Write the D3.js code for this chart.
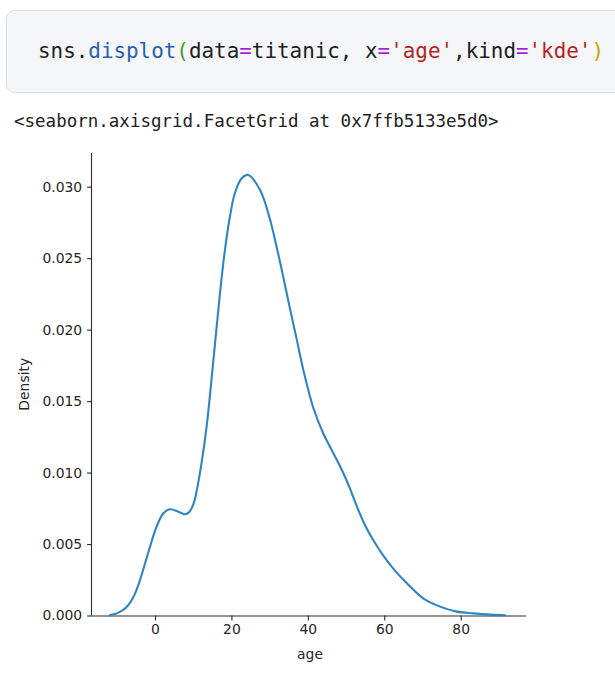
<!DOCTYPE html>
<html>
<head>
<meta charset="utf-8">
<script src="https://cdn.jsdelivr.net/npm/d3@7"></script>
<style>
  html, body { margin: 0; padding: 0; background: #ffffff; }
  svg { display: block; }
</style>
</head>
<body>
<svg id="chart" width="615" height="677"></svg>
<script>
// ---- data ----
const ages = [-11.8, -10.5, -9.2, -7.8, -6.5, -5.2, -3.9, -1.3, 0.4, 2.2, 3.9, 6.1, 7.9, 8.8, 9.6, 10.3, 10.9, 12.2, 13.5, 15.3, 17.0, 18.3, 19.6, 20.9, 22.7, 24.4,
              27.5, 30.1, 31.9, 33.4, 35.3, 37.1, 38.8, 41.4, 44.1, 46.0, 47.6, 49.3, 51.0, 52.8, 55.0, 57.1, 59.7, 62.3, 65.9, 70.2, 74.6, 79.0, 83.3, 87.7, 91.6];
const density = [0.00003, 0.0001, 0.00025, 0.0005, 0.0009, 0.00155, 0.0025, 0.00481, 0.00621, 0.00715, 0.00743, 0.00726, 0.00708, 0.0072, 0.0075, 0.0080, 0.0087, 0.0107, 0.0132, 0.0179, 0.02254, 0.02557, 0.0279, 0.02954, 0.03059, 0.03082,
                 0.02977, 0.0277, 0.0257, 0.0239, 0.0215, 0.0193, 0.0172, 0.01455, 0.0127, 0.0117, 0.01088, 0.00995, 0.0089, 0.00765, 0.0063, 0.00528, 0.0042, 0.0033, 0.00225, 0.0012, 0.00062, 0.00027, 0.00015, 0.00006, 0.00002];
const xTicks = [0, 20, 40, 60, 80];
const yTicks = [0, 0.005, 0.010, 0.015, 0.020, 0.025, 0.030];
const xLabel = "age";
const yLabel = "Density";
const codeTokens = [
  ["sns.", "#202124"], ["displot", "#2b5fb3"], ["(", "#4f9a2c"], ["data", "#202124"], ["=", "#a626d6"],
  ["titanic, x", "#202124"], ["=", "#a626d6"], ["'age'", "#b3261e"], [",kind", "#202124"], ["=", "#a626d6"],
  ["'kde'", "#b3261e"], [")", "#c9a400"]
];
const outputText = "<seaborn.axisgrid.FacetGrid at 0x7ffb5133e5d0>";

const svg = d3.select("#chart");

// ---- notebook code cell ----
svg.append("rect")
  .attr("x", 6.5).attr("y", 10.5).attr("width", 640).attr("height", 82)
  .attr("rx", 8).attr("ry", 8)
  .attr("fill", "#f5f6f7").attr("stroke", "#dcdde0").attr("stroke-width", 1);

const code = svg.append("text")
  .attr("x", 38).attr("y", 58)
  .attr("font-family", "'DejaVu Sans Mono', 'Liberation Mono', monospace")
  .attr("font-size", 20.9)
  .attr("xml:space", "preserve");
codeTokens.forEach(([t, c]) => code.append("tspan").attr("fill", c).text(t));

svg.append("text")
  .attr("x", 14).attr("y", 127)
  .attr("font-family", "'DejaVu Sans Mono', 'Liberation Mono', monospace")
  .attr("font-size", 17.5)
  .attr("fill", "#212121")
  .text(outputText);

// ---- chart ----
const plotLeft = 92, plotRight = 526, plotTop = 153, plotBottom = 615.5;
const pxPerUnitX = (460.7 - 155) / 80;
const x = d3.scaleLinear()
  .domain([(plotLeft - 155) / pxPerUnitX, (plotRight - 155) / pxPerUnitX])
  .range([plotLeft, plotRight]);
const pxPerUnitY = (615.5 - 186.7) / 0.03;
const y = d3.scaleLinear()
  .domain([0, (plotBottom - plotTop) / pxPerUnitY])
  .range([plotBottom, plotTop]);

const tickFont = "'DejaVu Sans', sans-serif";

const xAxis = svg.append("g")
  .attr("transform", `translate(0,${plotBottom})`)
  .call(d3.axisBottom(x).tickValues(xTicks).tickFormat(d3.format("d")).tickSize(4.9).tickPadding(4.2));
xAxis.select(".domain").attr("stroke", "#2a2a2a").attr("stroke-width", 1.1).attr("d", `M${plotLeft},0.5H${plotRight}`);
xAxis.selectAll(".tick line").attr("stroke", "#2a2a2a").attr("stroke-width", 1.1);
xAxis.selectAll(".tick text").attr("font-family", tickFont).attr("font-size", 13.9).attr("fill", "#262626");

const yAxis = svg.append("g")
  .attr("transform", `translate(${plotLeft},0)`)
  .call(d3.axisLeft(y).tickValues(yTicks).tickFormat(d3.format(".3f")).tickSize(4.9).tickPadding(4.9));
yAxis.select(".domain").attr("stroke", "#2a2a2a").attr("stroke-width", 1.1).attr("d", `M-0.5,${plotBottom}V${plotTop}`);
yAxis.selectAll(".tick line").attr("stroke", "#2a2a2a").attr("stroke-width", 1.1);
yAxis.selectAll(".tick text").attr("font-family", tickFont).attr("font-size", 13.9).attr("fill", "#262626");

svg.append("text")
  .attr("x", (plotLeft + plotRight) / 2 + 1).attr("y", 659)
  .attr("text-anchor", "middle")
  .attr("font-family", tickFont).attr("font-size", 13.9).attr("fill", "#262626")
  .text(xLabel);

svg.append("text")
  .attr("transform", `translate(29,${(plotTop + plotBottom) / 2}) rotate(-90)`)
  .attr("text-anchor", "middle")
  .attr("font-family", tickFont).attr("font-size", 13.9).attr("fill", "#262626")
  .text(yLabel);

const pts = ages.map((a, i) => [a, density[i]]);
svg.append("path")
  .datum(pts)
  .attr("fill", "none")
  .attr("stroke", "#2f85c4")
  .attr("stroke-width", 2.1)
  .attr("stroke-linejoin", "round")
  .attr("stroke-linecap", "round")
  .attr("d", d3.line().x(d => x(d[0])).y(d => y(d[1])).curve(d3.curveCatmullRom.alpha(0.5)));
</script>
</body>
</html>
